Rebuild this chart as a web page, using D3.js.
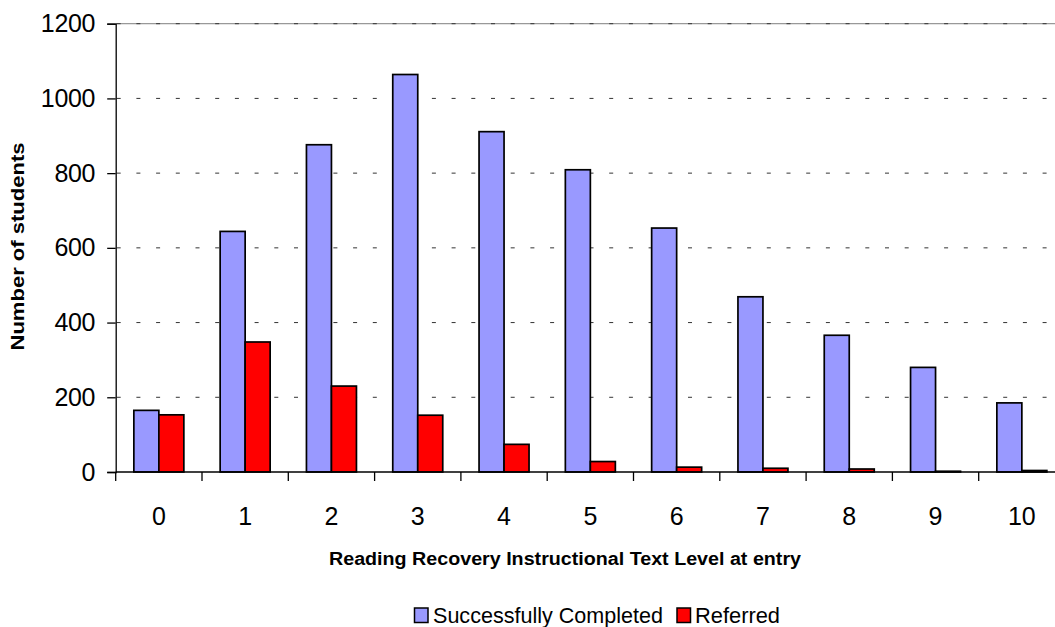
<!DOCTYPE html>
<html>
<head>
<meta charset="utf-8">
<script src="https://cdn.jsdelivr.net/npm/d3@7"></script>
<style>
  html, body { margin: 0; padding: 0; background: #fff; }
  svg { display: block; font-family: "Liberation Sans", Arial, sans-serif; }
</style>
</head>
<body>
<svg id="chart" width="1055" height="627"></svg>
<script>
// Reading Recovery entry levels
const levels = ["0", "1", "2", "3", "4", "5", "6", "7", "8", "9", "10"];
const completed = [165, 644, 876, 1064, 911, 809, 653, 469, 366, 280, 185];
const referred = [153, 348, 230, 152, 74, 28, 13, 10, 8, 2, 4];
const seriesNames = ["Successfully Completed", "Referred"];
const seriesColors = ["#9999FF", "#FF0000"];
const yTicks = [0, 200, 400, 600, 800, 1000, 1200];

const svg = d3.select("#chart");
const plotLeft = 115.7, plotRight = 1065, plotTop = 23.7, plotBottom = 472;

const x = d3.scaleBand().domain(levels).range([plotLeft, plotRight]).padding(0);
const xs = d3.scaleBand().domain(seriesNames).range([0, x.bandwidth()])
  .paddingInner(0).paddingOuter(0.726);
const y = d3.scaleLinear().domain([0, 1200]).range([plotBottom, plotTop]);

// plot-area top border
svg.append("line")
  .attr("x1", plotLeft).attr("x2", plotRight)
  .attr("y1", y(1200)).attr("y2", y(1200))
  .attr("stroke", "#999").attr("stroke-width", 1.3);

// dashed gridlines
svg.append("g")
  .selectAll("line")
  .data(yTicks.filter(d => d > 0))
  .join("line")
  .attr("x1", plotLeft).attr("x2", plotRight)
  .attr("y1", d => y(d)).attr("y2", d => y(d))
  .attr("stroke", "#333").attr("stroke-width", 1)
  .attr("stroke-dasharray", "4,15.7")
  .attr("stroke-dashoffset", -1);

// bars
const rows = levels.map((l, i) => ({ level: l, values: [completed[i], referred[i]] }));
const groups = svg.append("g").selectAll("g")
  .data(rows).join("g")
  .attr("transform", d => `translate(${x(d.level)},0)`);
groups.selectAll("rect")
  .data(d => d.values.map((v, k) => ({ name: seriesNames[k], value: v, k })))
  .join("rect")
  .attr("x", d => xs(d.name))
  .attr("width", xs.bandwidth())
  .attr("y", d => y(d.value))
  .attr("height", d => y(0) - y(d.value))
  .attr("fill", d => seriesColors[d.k])
  .attr("stroke", "#000")
  .attr("stroke-width", 1.7);

// y axis
const yAxis = svg.append("g")
  .attr("transform", `translate(${plotLeft},0)`)
  .call(d3.axisLeft(y).tickValues(yTicks).tickSize(8.5).tickPadding(12).tickFormat(d3.format("d")));
yAxis.select(".domain").attr("stroke", "#000").attr("stroke-width", 1.3);
yAxis.selectAll(".tick line").attr("stroke", "#000").attr("stroke-width", 1.3);
yAxis.selectAll(".tick text").attr("font-size", 25).attr("fill", "#000")
  .attr("font-family", "Liberation Sans, Arial, sans-serif").attr("letter-spacing", -0.3);

// x axis with ticks at category boundaries
const xAxis = svg.append("g").attr("transform", `translate(0,${plotBottom})`);
xAxis.append("line").attr("x1", plotLeft).attr("x2", plotRight)
  .attr("stroke", "#000").attr("stroke-width", 1.3);
xAxis.selectAll("line.tk")
  .data(levels.concat(["end"]))
  .join("line").attr("class", "tk")
  .attr("x1", (d, i) => i < levels.length ? x(d) : x(levels[levels.length - 1]) + x.bandwidth())
  .attr("x2", (d, i) => i < levels.length ? x(d) : x(levels[levels.length - 1]) + x.bandwidth())
  .attr("y1", 0).attr("y2", 9)
  .attr("stroke", "#000").attr("stroke-width", 1.3);
xAxis.selectAll("text")
  .data(levels).join("text")
  .attr("x", d => x(d) + x.bandwidth() / 2)
  .attr("y", 53)
  .attr("text-anchor", "middle")
  .attr("font-size", 25)
  .text(d => d);

// axis titles
svg.append("text")
  .attr("x", 565).attr("y", 565)
  .attr("text-anchor", "middle")
  .attr("font-size", 17.5).attr("font-weight", "bold")
  .attr("textLength", 472).attr("lengthAdjust", "spacingAndGlyphs")
  .text("Reading Recovery Instructional Text Level at entry");

svg.append("text")
  .attr("transform", "translate(24,246.5) rotate(-90)")
  .attr("text-anchor", "middle")
  .attr("font-size", 17.5).attr("font-weight", "bold")
  .attr("textLength", 208).attr("lengthAdjust", "spacingAndGlyphs")
  .text("Number of students");

// legend
const legend = svg.append("g");
const legendItems = [
  { name: seriesNames[0], color: seriesColors[0], x: 414.5, tx: 433, w: 230 },
  { name: seriesNames[1], color: seriesColors[1], x: 677, tx: 695, w: 85 }
];
legend.selectAll("rect").data(legendItems).join("rect")
  .attr("x", d => d.x).attr("y", 608)
  .attr("width", 13.5).attr("height", 14.5)
  .attr("fill", d => d.color).attr("stroke", "#000").attr("stroke-width", 1.5);
legend.selectAll("text").data(legendItems).join("text")
  .attr("x", d => d.tx).attr("y", 623)
  .attr("font-size", 22)
  .attr("textLength", d => d.w).attr("lengthAdjust", "spacingAndGlyphs")
  .text(d => d.name);
</script>
</body>
</html>
